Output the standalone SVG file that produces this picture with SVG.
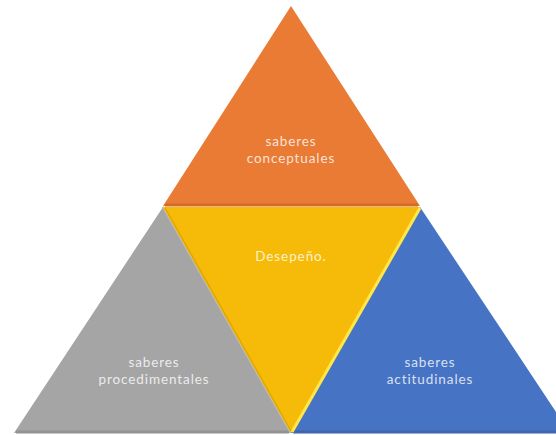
<svg xmlns="http://www.w3.org/2000/svg" width="556" height="435" viewBox="0 0 556 435">
<style>
.lbl{font-family:Lato,"Open Sans","Liberation Sans",sans-serif;font-size:13.5px;fill:#fff;fill-opacity:0.8;text-anchor:middle;letter-spacing:0.9px}
</style>
<rect width="556" height="435" fill="#fff"/>
<g id="conceptuales">
<polygon points="291,6 420,206 163,206" fill="#E97B35"/>
<line x1="165" y1="205" x2="418" y2="205" stroke="#D46A28" stroke-width="3"/>
<text class="lbl" x="291" y="146">saberes</text>
<text class="lbl" x="291" y="163">conceptuales</text>
</g>
<g id="procedimentales">
<polygon points="163,207 291,433 14,433" fill="#A5A5A5"/>
<line x1="16" y1="432" x2="289" y2="432" stroke="#939393" stroke-width="3"/>
<line x1="163" y1="207" x2="291" y2="433" stroke="#BDBDBD" stroke-width="2"/>
<text class="lbl" x="154" y="367">saberes</text>
<text class="lbl" x="154" y="384">procedimentales</text>
</g>
<g id="actitudinales">
<polygon points="420,207 570,433 291,433" fill="#4673C3"/>
<line x1="293" y1="432" x2="556" y2="432" stroke="#3E66AF" stroke-width="3"/>
<text class="lbl" x="430" y="367">saberes</text>
<text class="lbl" x="430" y="384">actitudinales</text>
</g>
<g id="desempeno">
<polygon points="163,207 420,207 291,433" fill="#F6BB08"/>
<line x1="420" y1="208" x2="292" y2="432" stroke="#FFE64A" stroke-width="3"/>
<line x1="165" y1="208" x2="291" y2="431" stroke="#E0A800" stroke-width="1.5"/>
<text class="lbl" x="291" y="261">Desepeño.</text>
</g>
<g id="connectors"></g>
</svg>
